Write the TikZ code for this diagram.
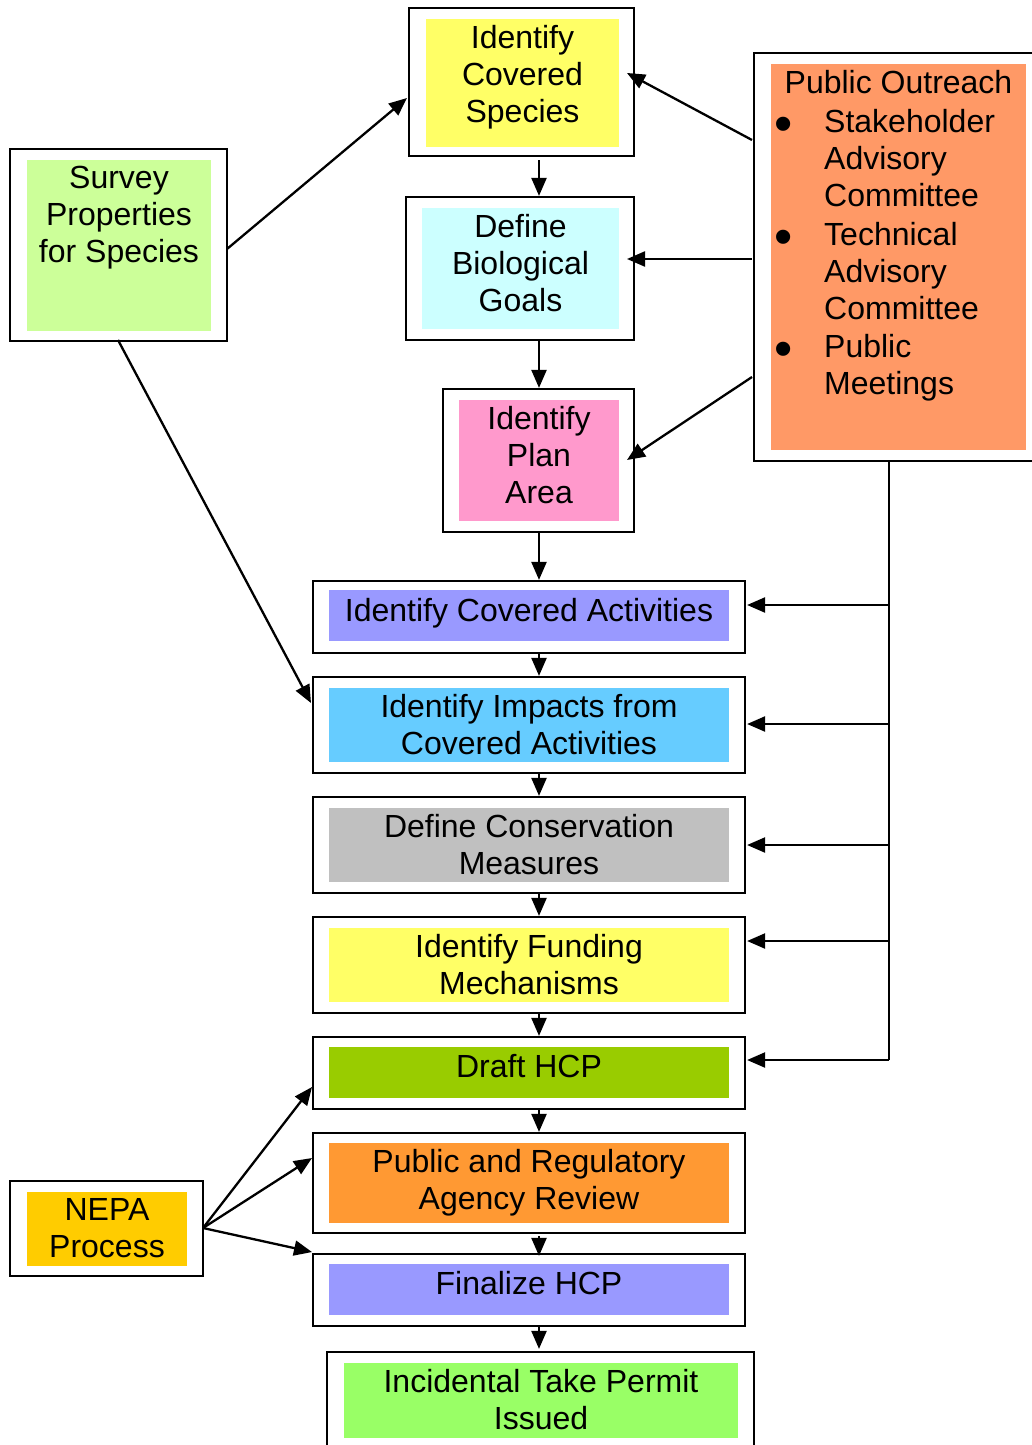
\documentclass[tikz,border=0pt]{standalone}
\usepackage{fontspec}
\setmainfont{Liberation Sans}
\usetikzlibrary{arrows.meta,fit,calc}
\begin{document}
\begin{tikzpicture}[x=1pt,y=-1pt,
  outerbox/.style={draw=black,line width=2.2pt,inner sep=0pt,fill=white},
  fillbox/.style={inner sep=0pt,draw=none},
  lbl/.style={font=\fontsize{32}{37}\selectfont,align=center,inner sep=0pt,anchor=north,text=black},
  ptxt/.style={font=\fontsize{32}{37}\selectfont,inner sep=0pt,anchor=base west,text=black},
  bul/.style={font=\fontsize{52}{52}\selectfont,inner sep=0pt,anchor=base west,text=black},
  arr/.style={line width=2.3pt,-{Triangle[length=18pt,width=15pt]}},
  ln/.style={line width=2.3pt}]
\useasboundingbox (0,0) rectangle (1032,1445);
\clip (0,0) rectangle (1032,1445);
\definecolor{cyel}{HTML}{FFFF66}
\definecolor{ccyan}{HTML}{CCFFFF}
\definecolor{cpink}{HTML}{FF99CC}
\definecolor{clgreen}{HTML}{CCFF99}
\definecolor{corange}{HTML}{FF9966}
\definecolor{cviolet}{HTML}{9999FF}
\definecolor{cblue}{HTML}{66CCFF}
\definecolor{cgray}{HTML}{C0C0C0}
\definecolor{colive}{HTML}{99CC00}
\definecolor{corange2}{HTML}{FF9933}
\definecolor{cgreen}{HTML}{99FF66}
\definecolor{cgold}{HTML}{FFCC00}

% Identify Covered Species
\node[outerbox,fit={(409,8) (634,156)}] (ics) {};
\node[fillbox,fill=cyel,fit={(426,19) (619,147)}] (icsF) {};
\node[lbl] (icsT) at ([yshift=-6pt]icsF.north) {Identify\\Covered\\Species};

% Define Biological Goals
\node[outerbox,fit={(406,197) (634,340)}] (dbg) {};
\node[fillbox,fill=ccyan,fit={(422,208) (619,329)}] (dbgF) {};
\node[lbl] (dbgT) at ([yshift=-6pt]dbgF.north) {Define\\Biological\\Goals};

% Identify Plan Area
\node[outerbox,fit={(443,389) (634,532)}] (ipa) {};
\node[fillbox,fill=cpink,fit={(459,400) (619,521)}] (ipaF) {};
\node[lbl] (ipaT) at ([yshift=-6pt]ipaF.north) {Identify\\Plan\\Area};

% Public Outreach
\node[outerbox,fit={(754,53) (1045,461)}] (po) {};
\node[fillbox,fill=corange,fit={(771,64) (1026,450)}] (poF) {};
\node[lbl] (poT) at ([yshift=-6pt]poF.north) {Public Outreach};
\node[bul] (pb1) at (774,141) {•};
\node[ptxt] (pi1) at (824,132) {Stakeholder};
\node[ptxt] (pi1b) at (824,169) {Advisory};
\node[ptxt] (pi1c) at (824,206) {Committee};
\node[bul] (pb2) at (774,254) {•};
\node[ptxt] (pi2) at (824,245) {Technical};
\node[ptxt] (pi2b) at (824,282) {Advisory};
\node[ptxt] (pi2c) at (824,319) {Committee};
\node[bul] (pb3) at (774,366) {•};
\node[ptxt] (pi3) at (824,357) {Public};
\node[ptxt] (pi3b) at (824,394) {Meetings};

% Survey Properties
\node[outerbox,fit={(10,149) (227,341)}] (sp) {};
\node[fillbox,fill=clgreen,fit={(27,160) (211,331)}] (spF) {};
\node[lbl] (spT) at ([yshift=-6pt]spF.north) {Survey\\Properties\\for Species};

% Identify Covered Activities
\node[outerbox,fit={(313,581) (745,653)}] (ica) {};
\node[fillbox,fill=cviolet,fit={(329,590) (729,641)}] (icaF) {};
\node[lbl] (icaT) at ([yshift=-8pt]icaF.north) {Identify Covered Activities};

% Identify Impacts
\node[outerbox,fit={(313,677) (745,773)}] (imp) {};
\node[fillbox,fill=cblue,fit={(329,688) (729,762)}] (impF) {};
\node[lbl] (impT) at ([yshift=-6pt]impF.north) {Identify Impacts from\\Covered Activities};

% Define Conservation Measures
\node[outerbox,fit={(313,797) (745,893)}] (dcm) {};
\node[fillbox,fill=cgray,fit={(329,808) (729,882)}] (dcmF) {};
\node[lbl] (dcmT) at ([yshift=-6pt]dcmF.north) {Define Conservation\\Measures};

% Identify Funding
\node[outerbox,fit={(313,917) (745,1013)}] (ifm) {};
\node[fillbox,fill=cyel,fit={(329,928) (729,1002)}] (ifmF) {};
\node[lbl] (ifmT) at ([yshift=-6pt]ifmF.north) {Identify Funding\\Mechanisms};

% Draft HCP
\node[outerbox,fit={(313,1037) (745,1109)}] (dr) {};
\node[fillbox,fill=colive,fit={(329,1047) (729,1098)}] (drF) {};
\node[lbl] (drT) at ([yshift=-7pt]drF.north) {Draft HCP};

% Public and Regulatory
\node[outerbox,fit={(313,1133) (745,1233)}] (pr) {};
\node[fillbox,fill=corange2,fit={(329,1143) (729,1223)}] (prF) {};
\node[lbl] (prT) at ([yshift=-6pt]prF.north) {Public and Regulatory\\Agency Review};

% Finalize HCP
\node[outerbox,fit={(313,1254) (745,1326)}] (fin) {};
\node[fillbox,fill=cviolet,fit={(329,1264) (729,1315)}] (finF) {};
\node[lbl] (finT) at ([yshift=-7pt]finF.north) {Finalize HCP};

% Incidental Take Permit
\node[outerbox,fit={(327,1352) (754,1460)}] (itp) {};
\node[fillbox,fill=cgreen,fit={(344,1363) (738,1438)}] (itpF) {};
\node[lbl] (itpT) at ([yshift=-6pt]itpF.north) {Incidental Take Permit\\Issued};

% NEPA
\node[outerbox,fit={(10,1181) (203,1276)}] (nepa) {};
\node[fillbox,fill=cgold,fit={(27,1192) (187,1266)}] (nepaF) {};
\node[lbl] (nepaT) at ([yshift=-6pt]nepaF.north) {NEPA\\Process};

% spine for vertical arrows
\coordinate (spine) at (539,0);
\draw[arr] ([yshift=-3pt]ics.south -| spine) -- (dbg.north -| spine);
\draw[arr] (dbg.south -| spine) -- (ipa.north -| spine);
\draw[arr] (ipa.south -| spine) -- (ica.north -| spine);
\draw[arr] (ica.south -| spine) -- (imp.north -| spine);
\draw[arr] (imp.south -| spine) -- (dcm.north -| spine);
\draw[arr] (dcm.south -| spine) -- (ifm.north -| spine);
\draw[arr] (ifm.south -| spine) -- (dr.north -| spine);
\draw[arr] (dr.south -| spine) -- (pr.north -| spine);
\draw[arr] ([yshift=-2pt]pr.south -| spine) -- ([yshift=-3pt]fin.north -| spine);
\draw[arr] (fin.south -| spine) -- ([yshift=2pt]itp.north -| spine);

% Public outreach to top boxes
\coordinate (po1) at (752,140);
\coordinate (po2) at (752,259);
\coordinate (po3) at (752,377);
\coordinate (icsR) at (627,73);
\coordinate (dbgR) at (627,259);
\coordinate (ipaR) at (627,460);
\draw[arr] (po1) -- (icsR);
\draw[arr] (po2) -- (dbgR);
\draw[arr] (po3) -- (ipaR);

% trunk
\coordinate (trunk) at (889,0);
\coordinate (b1) at (889,605);
\coordinate (b2) at (889,724);
\coordinate (b3) at (889,845);
\coordinate (b4) at (889,941);
\coordinate (b5) at (889,1060);
\draw[ln] (po.south -| trunk) -- (b5);
\draw[arr] (b1) -- ([xshift=1pt]b1 -| ica.east);
\draw[arr] (b2) -- ([xshift=1pt]b2 -| imp.east);
\draw[arr] (b3) -- ([xshift=1pt]b3 -| dcm.east);
\draw[arr] (b4) -- ([xshift=1pt]b4 -| ifm.east);
\draw[arr] (b5) -- ([xshift=1pt]b5 -| dr.east);

% Survey arrows
\coordinate (spR) at (227,249);
\coordinate (spB) at (118,340);
\coordinate (icsL) at (407,98);
\coordinate (impL) at (311,703);
\draw[arr] (spR) -- (icsL);
\draw[arr] (spB) -- (impL);

% NEPA arrows
\coordinate (nR) at (203,1228);
\coordinate (drL) at (312,1087);
\coordinate (prL) at (312,1158);
\coordinate (finL) at (312,1252);
\draw[arr] (nR) -- (drL);
\draw[arr] (nR) -- (prL);
\draw[arr] (nR) -- (finL);
\end{tikzpicture}
\end{document}
